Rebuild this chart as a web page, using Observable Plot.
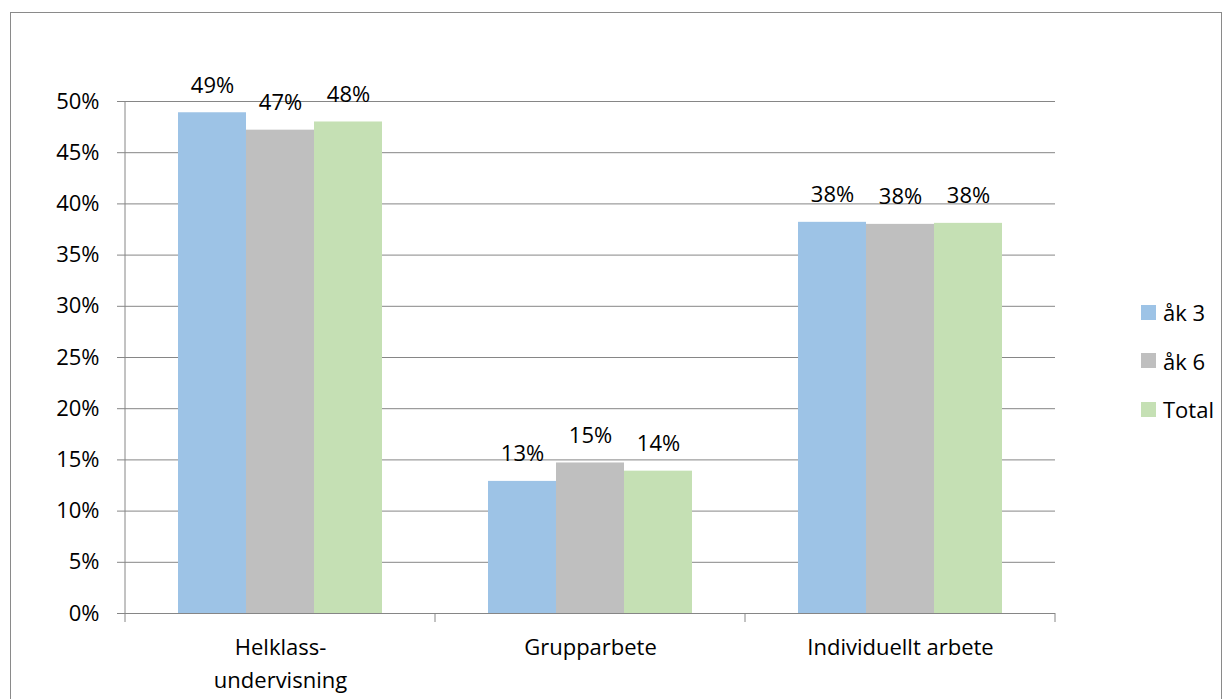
<!DOCTYPE html>
<html><head><meta charset="utf-8">
<script src="https://cdn.jsdelivr.net/npm/d3@7"></script>
<script src="https://cdn.jsdelivr.net/npm/@observablehq/plot@0.6"></script>
<style>
body{margin:0;background:#fff;font-family:"Open Sans",sans-serif;overflow:hidden;}
#wrap{position:relative;width:1232px;height:699px;overflow:hidden;}
#border{position:absolute;left:10px;top:12px;width:1210px;height:720px;border:1px solid #8a8a8a;pointer-events:none;}
#chart{position:absolute;left:0;top:0;}
#legend{position:absolute;left:1141px;top:288px;font-size:22px;color:#000;}
.item{display:flex;align-items:center;height:48.5px;}
.sw{width:15px;height:15px;margin-right:7px;}
</style></head><body>
<div id="wrap"><div id="border"></div><div id="chart"></div><div id="legend"></div></div>
<script>
const groups = ["Helklass-\nundervisning", "Grupparbete", "Individuellt arbete"];
const series = ["åk 3", "åk 6", "Total"];
const colors = ["#9DC3E6", "#BFBFBF", "#C5E0B4"];
const valuesAk3 = [0.489, 0.129, 0.382];
const valuesAk6 = [0.472, 0.147, 0.380];
const valuesTotal = [0.480, 0.139, 0.381];
const yTicks = [0, 0.05, 0.10, 0.15, 0.20, 0.25, 0.30, 0.35, 0.40, 0.45, 0.50];

const seriesValues = [valuesAk3, valuesAk6, valuesTotal];
const data = [];
groups.forEach((g, i) => series.forEach((s, j) => data.push({group: g, series: s, value: seriesValues[j][i]})));
const fmt = d3.format(".0%");
const gridColor = "#868686";

const chart = Plot.plot({
  width: 1232, height: 699,
  marginLeft: 124, marginRight: 176, marginTop: 101, marginBottom: 86,
  style: {fontFamily: '"Open Sans", sans-serif', fontSize: "22px", color: "#000", background: "transparent", overflow: "visible"},
  fx: {domain: groups, padding: 0, label: null, axis: null},
  x: {domain: series, paddingInner: 0, paddingOuter: 0.75, axis: null},
  y: {domain: [0, 0.5], axis: null},
  color: {domain: series, range: colors},
  marks: [
    Plot.ruleY(yTicks, {stroke: gridColor, strokeWidth: 1}),
    Plot.barY(data, {fx: "group", x: "series", y: "value", fill: "series"}),
    Plot.text(data, {fx: "group", x: "series", y: "value", text: d => fmt(d.value), lineAnchor: "bottom", dy: -20, fontSize: 22, fill: "#000"}),
    Plot.axisY({ticks: yTicks, tickFormat: fmt, tickSize: 8, tickPadding: 18, stroke: gridColor, fill: "#000", fontSize: 22, label: null}),
    Plot.axisFx({anchor: "bottom", tickSize: 0, tickPadding: 18, lineHeight: 1.5, fontSize: 22, fill: "#000", label: null})
  ]
});
document.getElementById("chart").appendChild(chart);

// axis lines and category boundary ticks from the plot's own scales
const fx = chart.scale("fx");
const y = chart.scale("y");
const bounds = groups.map(g => fx.apply(g));
bounds.push(fx.apply(groups[groups.length - 1]) + fx.bandwidth);
const svg = d3.select(chart);
const gAx = svg.append("g").attr("stroke", gridColor).attr("stroke-width", 1);
gAx.append("line").attr("x1", bounds[0]).attr("x2", bounds[0]).attr("y1", y.apply(0.5)).attr("y2", y.apply(0));
bounds.forEach(b => gAx.append("line").attr("x1", b).attr("x2", b).attr("y1", y.apply(0)).attr("y2", y.apply(0) + 9));

// legend
const leg = d3.select("#legend");
series.forEach((s, i) => {
  const it = leg.append("div").attr("class", "item");
  it.append("div").attr("class", "sw").style("background", colors[i]);
  it.append("span").text(s);
});
</script>
</body></html>
